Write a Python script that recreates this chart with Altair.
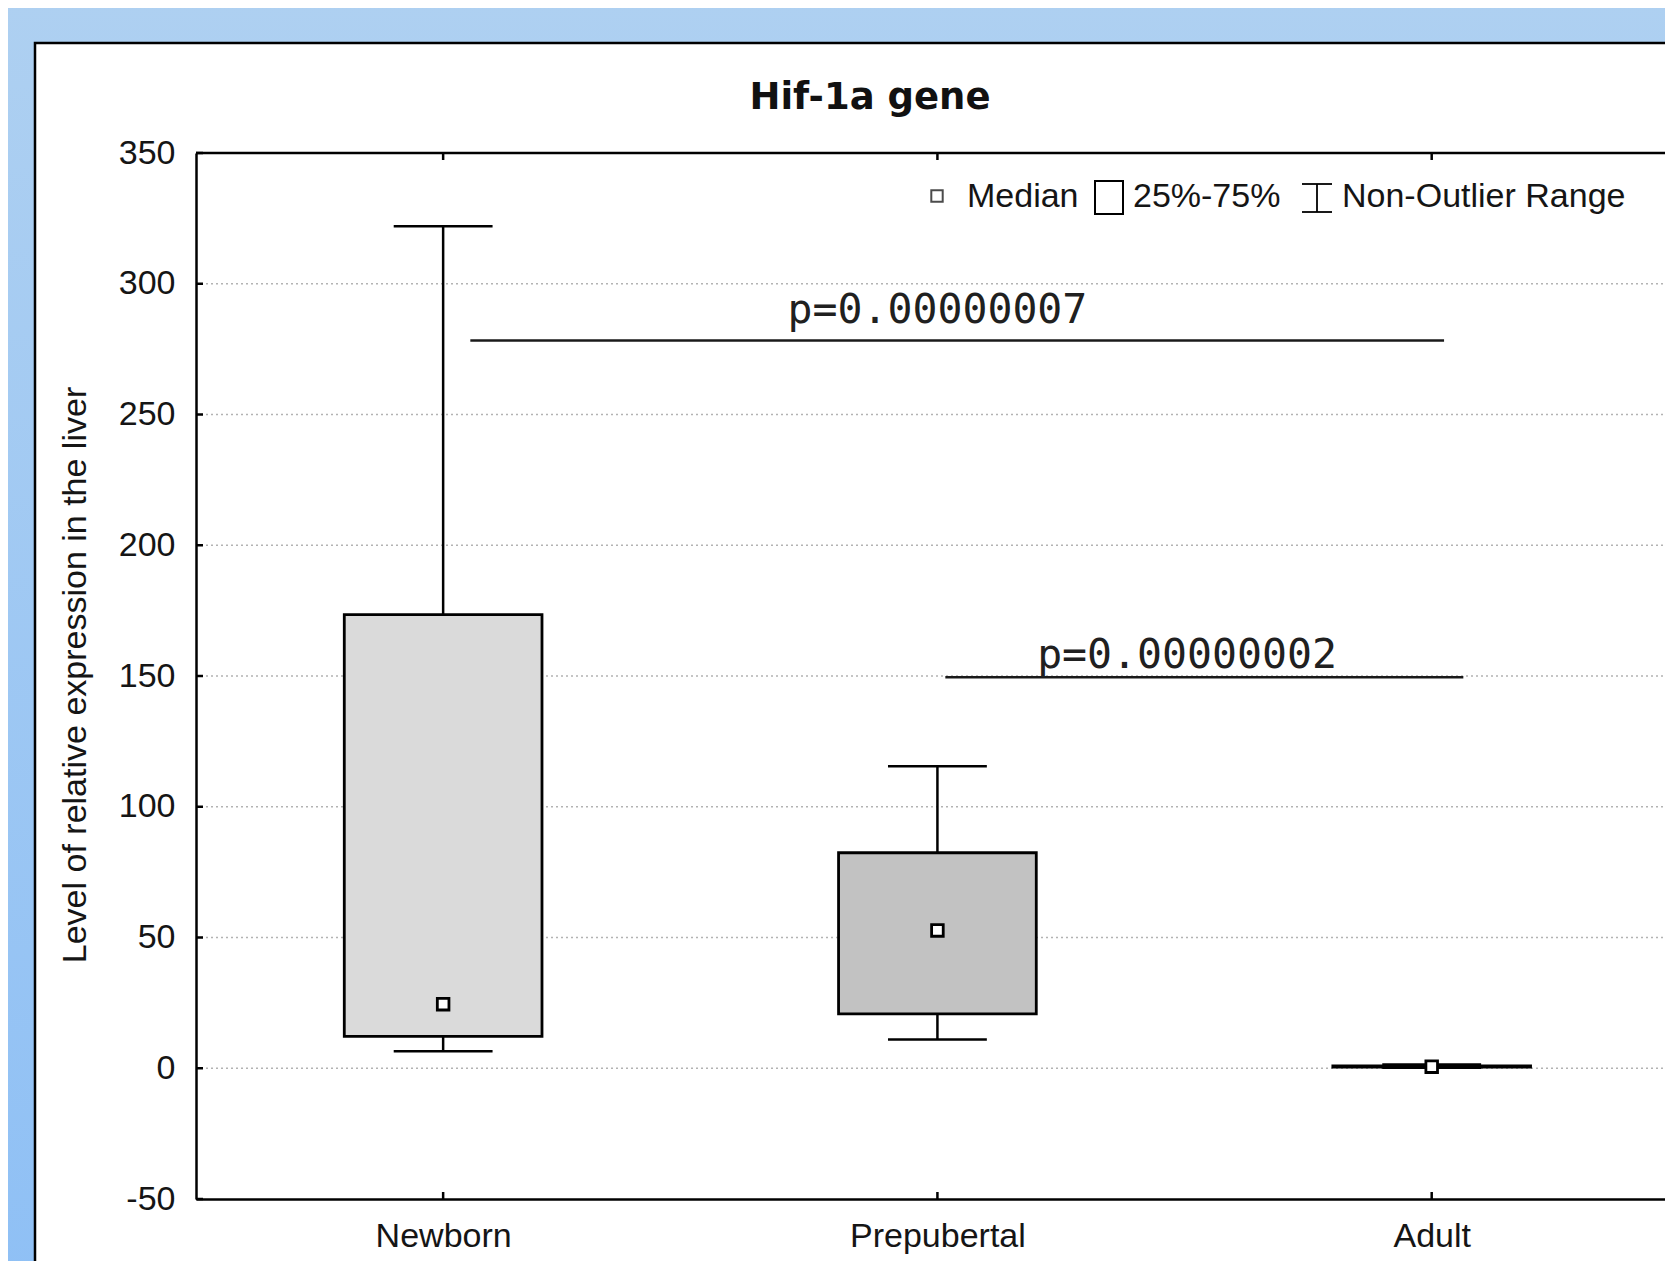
import altair as alt
import pandas as pd

# ---------------- data ----------------
groups = ["Newborn", "Prepubertal", "Adult"]
positions = [0.5, 1.5, 2.5]
whisker_low = [6.5, 11.0, 0.2]
q1 = [12.2, 20.8, 0.4]
median = [24.5, 52.7, 0.6]
q3 = [173.5, 82.4, 0.9]
whisker_high = [322.0, 115.5, 1.4]
box_fill = ["#dadada", "#c2c2c2", "#a9a9a9"]

p_labels = ["p=0.00000007", "p=0.00000002"]
p_x1 = [0.555, 1.516]
p_x2 = [2.525, 2.564]
p_line_y = [278.3, 149.5]
p_text_x = [1.50, 2.005]
p_text_y = [285.0, 153.0]

y_ticks = [-50, 0, 50, 100, 150, 200, 250, 300, 350]
grid_vals = [0, 50, 100, 150, 200, 250, 300]

legend_items = ["Median", "25%-75%", "Non-Outlier Range"]
title_text = "Hif-1a gene"
y_title = "Level of relative expression in the liver"

# ---------------- layout ----------------
W, H = 1469, 1046
FONT = "Liberation Sans"

box_df = pd.DataFrame({
    "group": groups, "pos": positions, "wlo": whisker_low, "q1": q1,
    "med": median, "q3": q3, "whi": whisker_high, "fill": box_fill,
})
p_df = pd.DataFrame({"label": p_labels, "x1": p_x1, "x2": p_x2, "y": p_line_y,
                     "tx": p_text_x, "ty": p_text_y})
grid_df = pd.DataFrame({"v": grid_vals})
tick_df = pd.DataFrame({"v": y_ticks})
pos_df = pd.DataFrame({"pos": positions})
one = pd.DataFrame({"a": [0]})

xs = alt.Scale(domain=[0, 2.972], nice=False, zero=False)
ys = alt.Scale(domain=[-50, 350], nice=False, zero=False)

label_expr = ("datum.value == 0.5 ? 'Newborn' : datum.value == 1.5 ? "
              "'Prepubertal' : 'Adult'")
xaxis = alt.Axis(values=positions, labelExpr=label_expr, title=None, grid=False,
                 domain=True, domainColor="black", domainWidth=2.5,
                 ticks=False, tickSize=0, labelFontSize=34, labelFont=FONT,
                 labelColor="#151515", labelPadding=20, labelFlush=False,
                 labelOverlap=False, labelBound=False, zindex=1)
yaxis = alt.Axis(values=y_ticks, labelExpr="'' + datum.value", title=None, grid=False,
                 domain=True, domainColor="black", domainWidth=2.5, ticks=False,
                 tickSize=0, labelFontSize=34, labelFont=FONT, labelColor="#151515",
                 labelPadding=21, labelOverlap=False, labelFlush=False, zindex=1)


def X(field):
    return alt.X(field, scale=xs, axis=xaxis)


def Y(field):
    return alt.Y(field, scale=ys, axis=yaxis)


bg = alt.Chart(one).mark_rect(
    fill=alt.LinearGradient(
        gradient="linear",
        stops=[alt.GradientStop(color="#aed0f1", offset=0),
               alt.GradientStop(color="#8fc0f5", offset=1)],
        x1=0, x2=0, y1=0, y2=1)
).encode(x=alt.value(-190), x2=alt.value(W + 20), y=alt.value(-150), y2=alt.value(H + 80))

panel = alt.Chart(one).mark_rect(fill="white", stroke="black", strokeWidth=2.5).encode(
    x=alt.value(-161), x2=alt.value(W + 40), y=alt.value(-110), y2=alt.value(H + 120))

grid = alt.Chart(grid_df).mark_rule(color="#b3b3b3", strokeWidth=1.5, strokeDash=[2, 3]).encode(
    y=Y("v:Q"), x=alt.value(0), x2=alt.value(W))

boxes = alt.Chart(box_df).transform_calculate(
    x0="datum.pos - 0.2", x1="datum.pos + 0.2"
).mark_rect(stroke="black", strokeWidth=2.8).encode(
    x=X("x0:Q"), x2="x1:Q", y=Y("q1:Q"), y2="q3:Q",
    fill=alt.Fill("fill:N", scale=None))

whisk_hi = alt.Chart(box_df).mark_rule(color="black", strokeWidth=2.5).encode(
    x=X("pos:Q"), y=Y("q3:Q"), y2="whi:Q")
whisk_lo = alt.Chart(box_df).mark_rule(color="black", strokeWidth=2.5).encode(
    x=X("pos:Q"), y=Y("wlo:Q"), y2="q1:Q")

caps_base = alt.Chart(box_df).transform_calculate(
    c0="datum.pos - 0.1", c1="datum.pos + 0.1")
cap_hi = caps_base.mark_rule(color="black", strokeWidth=2.5).encode(
    x=X("c0:Q"), x2="c1:Q", y=Y("whi:Q"))
cap_lo = caps_base.mark_rule(color="black", strokeWidth=2.5).encode(
    x=X("c0:Q"), x2="c1:Q", y=Y("wlo:Q"))

med = alt.Chart(box_df).mark_square(size=135, filled=True, fill="white", stroke="black",
                                   strokeWidth=2.8, opacity=1).encode(
    x=X("pos:Q"), y=Y("med:Q"))

p_lines = alt.Chart(p_df).mark_rule(color="#1a1a1a", strokeWidth=2.5).encode(
    x=X("x1:Q"), x2="x2:Q", y=Y("y:Q"))
p_text = alt.Chart(p_df).mark_text(font="DejaVu Sans Mono", fontSize=41.5, align="center",
                                  baseline="alphabetic", color="#202020").encode(
    x=X("tx:Q"), y=Y("ty:Q"), text="label:N")

top_line = alt.Chart(one).mark_rule(color="black", strokeWidth=2.5).encode(
    x=alt.value(0), x2=alt.value(W), y=alt.value(0))

ytick_marks = alt.Chart(tick_df).mark_rule(color="black", strokeWidth=2.5).encode(
    y=Y("v:Q"), x=alt.value(0), x2=alt.value(7))
xtick_top = alt.Chart(pos_df).mark_rule(color="black", strokeWidth=2.5).encode(
    x=X("pos:Q"), y=alt.value(0), y2=alt.value(7))
xtick_bot = alt.Chart(pos_df).mark_rule(color="black", strokeWidth=2.5).encode(
    x=X("pos:Q"), y=alt.value(H), y2=alt.value(H - 7))

# legend (decoration)
leg_sq = alt.Chart(one).mark_square(size=130, filled=True, fill="white", stroke="black",
                                    strokeWidth=2).encode(x=alt.value(741), y=alt.value(43))
leg_rect = alt.Chart(one).mark_rect(fill="white", stroke="black", strokeWidth=2).encode(
    x=alt.value(899), x2=alt.value(927), y=alt.value(28), y2=alt.value(61))
leg_wv = alt.Chart(one).mark_rule(color="black", strokeWidth=1.8).encode(
    x=alt.value(1121), y=alt.value(31), y2=alt.value(59))
leg_wt = alt.Chart(one).mark_rule(color="black", strokeWidth=1.8).encode(
    x=alt.value(1106), x2=alt.value(1136), y=alt.value(31))
leg_wb = alt.Chart(one).mark_rule(color="black", strokeWidth=1.8).encode(
    x=alt.value(1106), x2=alt.value(1136), y=alt.value(59))
leg_texts = []
for txt, xv in zip(legend_items, [771, 937, 1146]):
    leg_texts.append(alt.Chart(one).mark_text(
        text=txt, font=FONT, fontSize=34, align="left", baseline="middle",
        color="#151515").encode(x=alt.value(xv), y=alt.value(44)))

title = alt.Chart(one).mark_text(
    text=title_text, font="DejaVu Sans", fontWeight="bold", fontSize=37,
    align="center", baseline="alphabetic", color="#111111").encode(
    x=alt.value(674), y=alt.value(-44))
ytitle = alt.Chart(one).mark_text(
    text=y_title, font=FONT, fontSize=34, angle=270, align="center",
    baseline="middle", color="#151515").encode(x=alt.value(-120), y=alt.value(522))

chart = alt.layer(
    bg, panel, grid, boxes, whisk_hi, whisk_lo, cap_hi, cap_lo, med,
    p_lines, p_text, top_line, ytick_marks, xtick_top, xtick_bot,
    leg_sq, leg_rect, leg_wv, leg_wt, leg_wb, *leg_texts, title, ytitle
).properties(
    width=W, height=H,
    autosize=alt.AutoSizeParams(type="none"),
    padding={"left": 188, "top": 145, "right": 0, "bottom": 62},
    background="#a8ccf0",
).configure_view(stroke="transparent")

chart.save("out.html", embed_options={"renderer": "svg", "actions": False})
